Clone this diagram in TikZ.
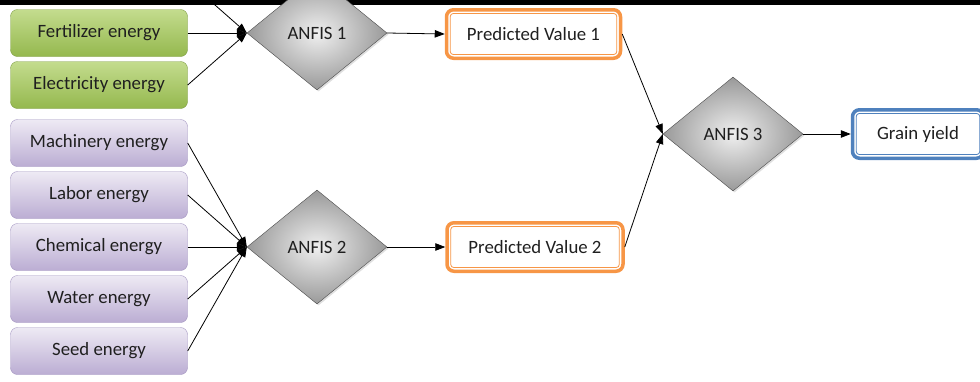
\documentclass[tikz,border=0pt]{standalone}
\usepackage{fontspec}
\setmainfont{Carlito}
\usetikzlibrary{arrows.meta, positioning, shapes.geometric, shadows}
\definecolor{grntop}{HTML}{C4DC8E}
\definecolor{grnbot}{HTML}{95B84E}
\definecolor{grnedge}{HTML}{7E9D45}
\definecolor{purtop}{HTML}{EEEAF4}
\definecolor{purbot}{HTML}{BBADD3}
\definecolor{puredge}{HTML}{A294C0}
\definecolor{predorange}{HTML}{F79646}
\definecolor{yieldblue}{HTML}{4F81BD}
\tikzset{
    label font/.style={font=\fontsize{18.8}{22}\selectfont, text=black!88},
    greenbox/.style={label font, rounded corners=7pt, draw=grnedge, top color=grntop, bottom color=grnbot,
        minimum width=177pt, minimum height=47pt, inner sep=0pt},
    purplebox/.style={label font, rounded corners=7pt, draw=puredge, top color=purtop, bottom color=purbot,
        minimum width=177pt, minimum height=47pt, inner sep=0pt},
    anfis/.style={label font, diamond, aspect=1.23, minimum width=140pt, minimum height=114pt, inner sep=0pt,
        draw=gray!60!black, shading=radial, inner color=gray!12, outer color=gray!80,
        drop shadow={shadow xshift=1.5pt, shadow yshift=-1.5pt, opacity=0.25}},
    outbox/.style={label font, rounded corners=7pt, draw=#1, line width=3.5pt, fill=white,
        minimum height=48.5pt, inner sep=0pt},
    % thin line inside the thick frame of the output boxes
    inframe/.style={draw=#1, line width=0.8pt, rounded corners=3pt},
    link/.style={-{Triangle[length=10pt,width=7.5pt]}, line width=0.8pt},
}

\begin{document}
\begin{tikzpicture}[x=1pt, y=-1pt]
    \useasboundingbox (0,0) rectangle (980,381);

    % inputs
    \node[greenbox] (top) at (99,-19) {};
    \node[greenbox] (fert) at (99,33) {Fertilizer energy};
    \node[greenbox] (elec) at (99,85) {Electricity energy};

    \node[purplebox] (mach) at (99,143) {Machinery energy};
    \node[purplebox] (labor) at (99,195) {Labor energy};
    \node[purplebox] (chem) at (99,247) {Chemical energy};
    \node[purplebox] (water) at (99,299) {Water energy};
    \node[purplebox] (seed) at (99,351) {Seed energy};

    \fill[black] (0,0) rectangle (980,4.5);

    % models
    \node[anfis] (anfis1) at (317,33) {ANFIS 1};
    \node[anfis] (anfis2) at (317,247) {ANFIS 2};
    \node[anfis] (anfis3) at (733,134) {ANFIS 3};

    % outputs
    \node[outbox=predorange, minimum width=174pt] (pv1) at (533.5,34) {Predicted Value 1};
    \node[outbox=predorange, minimum width=176pt] (pv2) at (535,247) {Predicted Value 2};
    \node[outbox=yieldblue, minimum width=131pt] (yield) at (918,134) {Grain yield};

    \foreach \n/\c in {pv1/predorange, pv2/predorange, yield/yieldblue}
        \draw[inframe=\c] ([shift={(5.5pt,5.5pt)}]\n.south west) rectangle ([shift={(-5.5pt,-5.5pt)}]\n.north east);

    \foreach \n in {top, fert, elec}
        \draw[link] (\n.east) -- (anfis1.west);
    \foreach \n in {mach, labor, chem, water, seed}
        \draw[link] (\n.east) -- (anfis2.west);

    \draw[link] (anfis1.east) -- (pv1.west);
    \draw[link] (anfis2.east) -- (pv2.west);
    \draw[link] (pv1.east) -- (anfis3.west);
    \draw[link] (pv2.east) -- (anfis3.west);
    \draw[link] (anfis3.east) -- (yield.west);

\end{tikzpicture}
\end{document}
